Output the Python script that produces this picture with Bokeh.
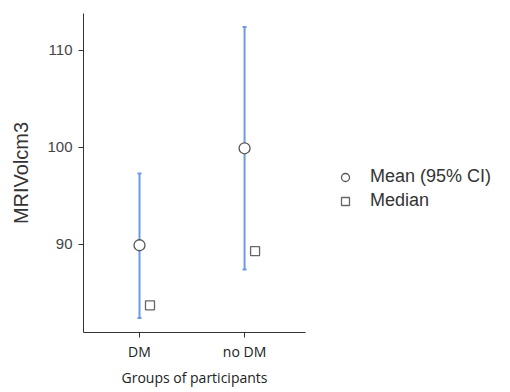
from bokeh.plotting import figure
from bokeh.models import ColumnDataSource, Legend, LegendItem, Range1d, FixedTicker, Whisker, TeeHead
from bokeh.transform import dodge
from bokeh.embed import file_html
from bokeh.resources import INLINE

groups = ["DM", "no DM"]
group_pos = [1, 2]
means = [89.9, 99.9]
ci_lower = [82.4, 87.4]
ci_upper = [97.3, 112.4]
medians = [83.7, 89.3]
y_ticks = [90, 100, 110]

src = ColumnDataSource(dict(x=group_pos, mean=means, lo=ci_lower, hi=ci_upper, med=medians))

p = figure(frame_width=222, frame_height=319, output_backend="svg", toolbar_location=None,
           x_range=Range1d(0.467, 2.58), y_range=Range1d(80.9, 113.8),
           min_border_left=83, min_border_top=13, min_border_bottom=58, min_border_right=0)
p.outline_line_color = None
p.grid.visible = False
p.background_fill_color = "white"
p.border_fill_color = "white"

bar_color = "#6c9be6"
w = Whisker(source=src, base="x", lower="lo", upper="hi", dimension="height",
            line_color=bar_color, line_width=2,
            upper_head=TeeHead(size=4, line_color=bar_color, line_width=2),
            lower_head=TeeHead(size=4, line_color=bar_color, line_width=2))
p.add_layout(w)

r_mean = p.scatter(x="x", y="mean", source=src, marker="circle", size=11,
                   fill_color="white", line_color="#555555", line_width=1.3)
r_med = p.scatter(x=dodge("x", 0.1), y="med", source=src, marker="square", size=9,
                  fill_color="white", line_color="#666666", line_width=1.3)

p.xaxis.ticker = FixedTicker(ticks=group_pos)
p.xaxis.major_label_overrides = {1: groups[0], 2: groups[1]}
p.yaxis.ticker = FixedTicker(ticks=y_ticks)
for ax in (p.xaxis, p.yaxis):
    ax.axis_line_color = "#333333"
    ax.major_tick_line_color = "#333333"
    ax.major_tick_out = 5
    ax.major_tick_in = 0
    ax.minor_tick_line_color = None
p.xaxis.axis_label = "Groups of participants"
p.yaxis.axis_label = "MRIVolcm3"
p.xaxis.major_label_text_font = "Open Sans"
p.xaxis.major_label_text_font_size = "14px"
p.xaxis.major_label_text_color = "#222222"
p.xaxis.major_label_standoff = 4
p.xaxis.axis_label_text_font = "Open Sans"
p.xaxis.axis_label_text_font_size = "14px"
p.xaxis.axis_label_text_font_style = "normal"
p.xaxis.axis_label_text_color = "#222222"
p.xaxis.axis_label_standoff = 4
p.yaxis.major_label_text_font = "Liberation Sans"
p.yaxis.major_label_text_font_size = "15px"
p.yaxis.major_label_text_color = "#444444"
p.yaxis.major_label_standoff = 6
p.yaxis.axis_label_text_font = "Liberation Sans"
p.yaxis.axis_label_text_font_size = "20px"
p.yaxis.axis_label_text_font_style = "normal"
p.yaxis.axis_label_text_color = "#333333"
p.yaxis.axis_label_standoff = 12

legend = Legend(items=[LegendItem(label="Mean (95% CI)", renderers=[r_mean]),
                       LegendItem(label="Median", renderers=[r_med])],
                location=(30, 121), orientation="vertical",
                border_line_color=None, background_fill_alpha=0,
                label_text_font="Liberation Sans", label_text_font_size="18px",
                label_text_color="#333333", glyph_width=20, glyph_height=20,
                label_height=20, spacing=3, label_standoff=15, margin=30, padding=0)
p.add_layout(legend, "right")

open("out.html", "w").write(file_html(p, INLINE))
